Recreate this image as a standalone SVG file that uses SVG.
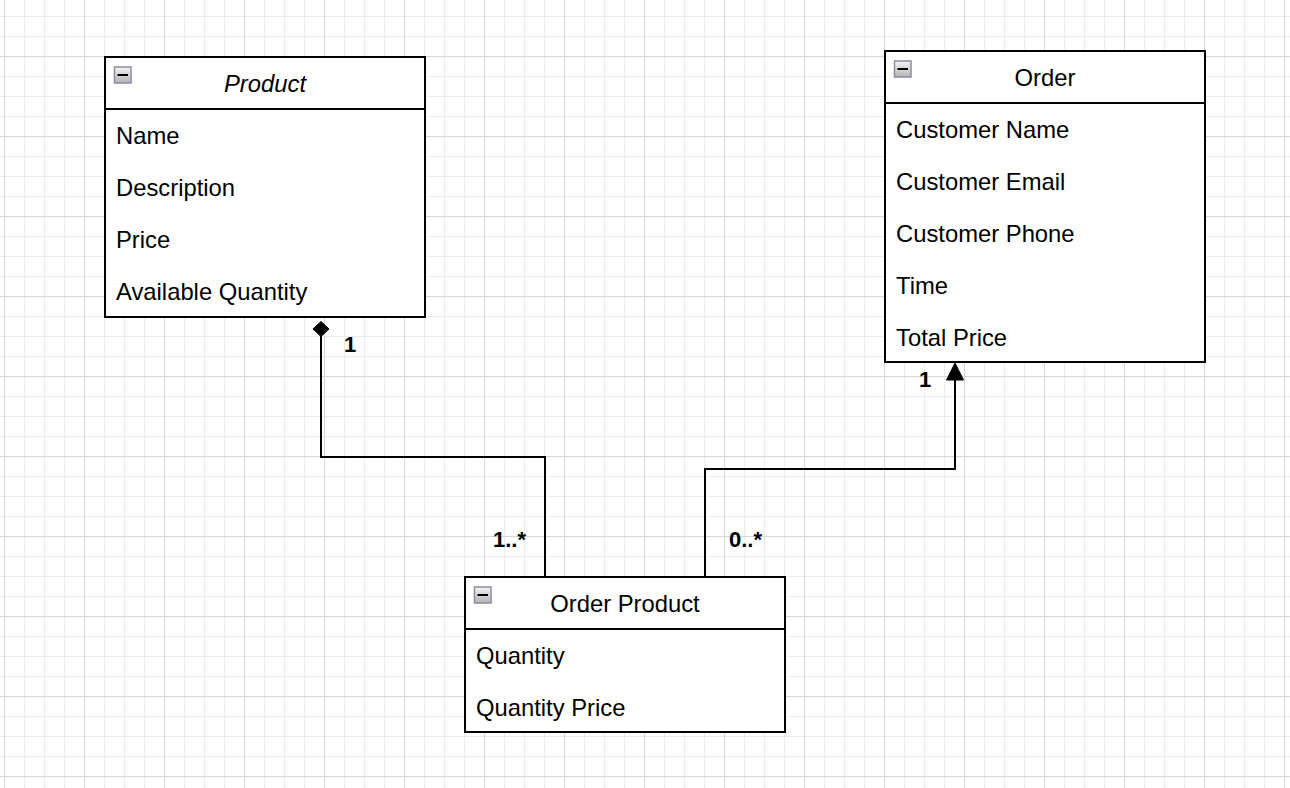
<svg xmlns="http://www.w3.org/2000/svg" width="1290" height="788" viewBox="0 0 1290 788">
<style>
.box{fill:#fff;stroke:#000;stroke-width:2}
.sep{stroke:#000;stroke-width:2}
.t{font-family:"Liberation Sans",Arial,Helvetica,sans-serif;font-size:23.8px;fill:#000}
.title{text-anchor:middle}
.lbl{font-family:"Liberation Sans",Arial,Helvetica,sans-serif;font-size:22px;font-weight:bold;fill:#000}
.conn{fill:none;stroke:#000;stroke-width:2}
.icon{fill:url(#ig);stroke:#8c8ca3;stroke-width:1.5}
.minus{stroke:#000;stroke-width:2}
</style>
<defs>
<linearGradient id="ig" x1="0" y1="0" x2="0" y2="1">
<stop offset="0" stop-color="#f4f4f4"/>
<stop offset="1" stop-color="#b4b4b4"/>
</linearGradient>
<pattern id="grid" patternUnits="userSpaceOnUse" x="4" y="56" width="80" height="80">
<path d="M20.5 0V80M40.5 0V80M60.5 0V80M0 20.5H80M0 40.5H80M0 60.5H80" stroke="#ececec" stroke-width="1" fill="none"/>
<path d="M0.5 0V80M0 0.5H80" stroke="#d6d6d6" stroke-width="1" fill="none"/>
</pattern>
</defs>
<rect x="0" y="0" width="1290" height="788" fill="#fff"/>
<rect x="0" y="0" width="1290" height="788" fill="url(#grid)"/>

<g id="connectors">
<path class="conn" d="M321 336V457H545V577"/>
<polygon points="321,321.5 329,329 321,336.5 313,329" fill="#000" stroke="#000" stroke-width="1"/>
<path class="conn" d="M705 577V469H955V378"/>
<polygon points="955,363 963.5,380 946.5,380" fill="#000" stroke="#000" stroke-width="1"/>
<text class="lbl" x="344" y="352">1</text>
<text class="lbl" x="493" y="547">1..*</text>
<text class="lbl" x="729" y="547">0..*</text>
<text class="lbl" x="919" y="387">1</text>
</g>

<g id="product">
<rect class="box" x="105" y="57" width="320" height="260"/>
<line class="sep" x1="105" y1="109" x2="425" y2="109"/>
<rect class="icon" x="114.5" y="67" width="16.5" height="16"/>
<line class="minus" x1="117.5" y1="75" x2="128" y2="75"/>
<text class="t title" x="265" y="92" font-style="italic">Product</text>
<text class="t" x="116" y="144">Name</text>
<text class="t" x="116" y="196">Description</text>
<text class="t" x="116" y="248">Price</text>
<text class="t" x="116" y="300">Available Quantity</text>
</g>

<g id="order">
<rect class="box" x="885" y="51" width="320" height="311"/>
<line class="sep" x1="885" y1="103" x2="1205" y2="103"/>
<rect class="icon" x="894.5" y="61" width="16.5" height="16"/>
<line class="minus" x1="897.5" y1="69" x2="908" y2="69"/>
<text class="t title" x="1045" y="86">Order</text>
<text class="t" x="896" y="138">Customer Name</text>
<text class="t" x="896" y="190">Customer Email</text>
<text class="t" x="896" y="242">Customer Phone</text>
<text class="t" x="896" y="294">Time</text>
<text class="t" x="896" y="346">Total Price</text>
</g>

<g id="order-product">
<rect class="box" x="465" y="577" width="320" height="155"/>
<line class="sep" x1="465" y1="629" x2="785" y2="629"/>
<rect class="icon" x="474.5" y="587" width="16.5" height="16"/>
<line class="minus" x1="477.5" y1="595" x2="488" y2="595"/>
<text class="t title" x="625" y="612">Order Product</text>
<text class="t" x="476" y="664">Quantity</text>
<text class="t" x="476" y="716">Quantity Price</text>
</g>
</svg>
